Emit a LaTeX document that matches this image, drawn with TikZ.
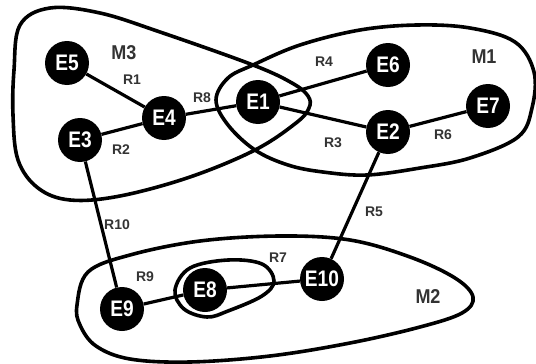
\documentclass[tikz,border=0pt]{standalone}
\usepackage{fontspec}
\setmainfont{Liberation Sans}
\newfontfamily\entfont[FakeStretch=0.85]{Liberation Sans}
\newfontfamily\modfont[FakeStretch=0.9]{Liberation Sans}
\definecolor{lbl}{HTML}{333333}
\pgfdeclarelayer{back}
\pgfsetlayers{back,main}
\begin{document}
\begin{tikzpicture}[x=1pt,y=-1pt,
  ent/.style={circle,fill=black,minimum size=44pt,inner sep=0pt,text=white,font=\entfont\bfseries\fontsize{22.5}{22.5}\selectfont},
  rel/.style={text=lbl,font=\bfseries\fontsize{14}{14}\selectfont,inner sep=0pt},
  mod/.style={text=lbl,font=\modfont\bfseries\fontsize{20}{20}\selectfont,inner sep=0pt},
  blob/.style={line width=3.6pt,line join=round},
  link/.style={line width=3.2pt}]
\useasboundingbox (0,0) rectangle (536,364);
% entities
\node[ent] (E5) at (67,63) {E5};
\node[ent] (E4) at (164,118) {E4};
\node[ent] (E3) at (80,140) {E3};
\node[ent] (E1) at (258,102) {E1};
\node[ent] (E6) at (388,65) {E6};
\node[ent] (E2) at (388,132) {E2};
\node[ent] (E7) at (488,106) {E7};
\node[ent] (E8) at (205,290) {E8};
\node[ent] (E9) at (122,309) {E9};
\node[ent] (E10) at (322,279) {E10};
\begin{pgfonlayer}{back}
% module outlines
\draw[blob] plot[smooth cycle,tension=0.6] coordinates {(14,70) (20,25) (50,8) (100,13) (160,32) (253,65) (292,83) (308,96) (309,108) (296,123) (255,150) (190,177) (120,196) (70,200) (38,188) (18,160) (13,115)};
\draw[blob] plot[smooth cycle,tension=0.6] coordinates {(216,100) (228,78) (253,65) (300,45) (360,30) (417,25) (470,28) (515,42) (534,72) (532,108) (518,137) (470,158) (420,168) (367,175) (323,172) (288,165) (255,150) (228,125)};
\draw[blob] plot[smooth cycle,tension=0.6] coordinates {(77,305) (88,272) (130,255) (200,241) (280,236) (350,240) (410,257) (455,278) (473,297) (462,313) (420,327) (350,343) (270,356) (190,362) (130,359) (96,346) (80,325)};
\draw[blob] plot[smooth cycle,tension=0.6] coordinates {(175,290) (190,268) (228,260) (262,264) (274,281) (262,296) (228,311) (207,317) (184,309)};
% relations
\draw[link] (E5) -- (E4);
\draw[link] (E3) -- (E4);
\draw[link] (E4) -- (E1);
\draw[link] (E1) -- (E6);
\draw[link] (E1) -- (E2);
\draw[link] (E2) -- (E7);
\draw[link] (E2) -- (E10);
\draw[link] (E3) -- (E9);
\draw[link] (E9) -- (E8);
\draw[link] (E8) -- (E10);
\end{pgfonlayer}
% labels
\node[rel] (R1) at (132,80) {R1};
\node[rel] (R8) at (202,98) {R8};
\node[rel] (R2) at (121,150) {R2};
\node[rel] (R4) at (324,62) {R4};
\node[rel] (R3) at (333,143) {R3};
\node[rel] (R6) at (443,135) {R6};
\node[rel] (R5) at (374,212) {R5};
\node[rel] (R10) at (117,225) {R10};
\node[rel] (R9) at (145,277) {R9};
\node[rel] (R7) at (278,258) {R7};
\node[mod] (M3) at (124,53) {M3};
\node[mod] (M1) at (484,57) {M1};
\node[mod] (M2) at (428,297) {M2};
\end{tikzpicture}
\end{document}
